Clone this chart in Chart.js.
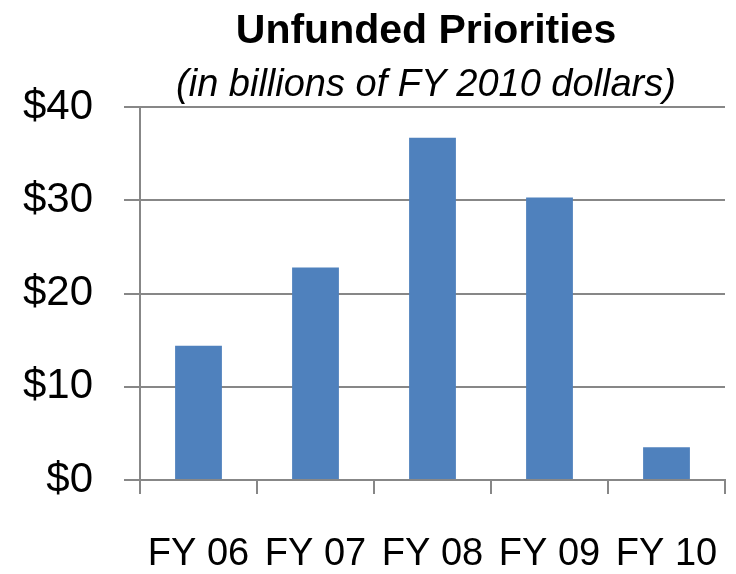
<!DOCTYPE html>
<html lang="en">
<head>
  <meta charset="UTF-8">
  <title>Unfunded Priorities</title>
  <script src="https://cdn.jsdelivr.net/npm/chart.js"></script>
  <style>
    body {
      margin: 0;
      padding: 0;
      background: white;
      font-family: 'Liberation Sans', Arial, sans-serif;
      overflow: hidden;
    }
    .wrap {
      position: relative;
      width: 736px;
      height: 574px;
    }
    .title {
      position: absolute;
      left: 126px;
      width: 600px;
      text-align: center;
      color: #000;
      margin: 0;
      line-height: 1;
      white-space: nowrap;
    }
    .main {
      top: 9px;
      font-size: 41px;
      font-weight: bold;
    }
    .sub {
      top: 64px;
      font-size: 38px;
      font-style: italic;
    }
  </style>
</head>
<body>
  <div class="wrap">
    <canvas id="chart" width="736" height="574"></canvas>
    <div class="title main">Unfunded Priorities</div>
    <div class="title sub">(in billions of FY 2010 dollars)</div>
  </div>

  <script>
    // values, billions of FY 2010 dollars
    const categories = ['FY 06', 'FY 07', 'FY 08', 'FY 09', 'FY 10'];
    const unfunded = [14.4, 22.8, 36.7, 30.3, 3.5];
    const yTicks = [0, 10, 20, 30, 40];

    const gridGray = '#878787';

    new Chart(document.getElementById('chart'), {
      type: 'bar',
      data: {
        labels: categories,
        datasets: [{
          label: 'Unfunded Priorities',
          data: unfunded,
          backgroundColor: '#4F81BD',
          barPercentage: 0.4,
          categoryPercentage: 1.0
        }]
      },
      options: {
        responsive: false,
        animation: false,
        layout: {
          autoPadding: false,
          padding: { top: 107, left: 0, right: 11, bottom: 0 }
        },
        plugins: {
          legend: { display: false },
          tooltip: { enabled: false }
        },
        scales: {
          x: {
            afterFit: function(axis) {
              axis.height = 94;
              // labels may hang past the plot edge, like the original
              axis.paddingLeft = 0;
              axis.paddingRight = 0;
            },
            grid: {
              offset: true,
              drawOnChartArea: false,
              drawTicks: true,
              tickLength: 14,
              color: gridGray,
              lineWidth: 2
            },
            border: { display: true, color: gridGray, width: 2 },
            ticks: {
              autoSkip: false,
              maxRotation: 0,
              padding: 38,
              color: '#000',
              font: { family: 'Liberation Sans', size: 38 }
            }
          },
          y: {
            min: 0,
            max: 40,
            afterFit: function(axis) { axis.width = 140; },
            afterBuildTicks: function(axis) {
              axis.ticks = yTicks.map(function(v) { return { value: v }; });
            },
            grid: {
              color: gridGray,
              lineWidth: 2,
              tickLength: 16
            },
            border: { display: true, color: gridGray, width: 2 },
            ticks: {
              padding: 31,
              color: '#000',
              font: { family: 'Liberation Sans', size: 42 },
              callback: function(value) { return '$' + value; }
            }
          }
        }
      }
    });
  </script>
</body>
</html>
